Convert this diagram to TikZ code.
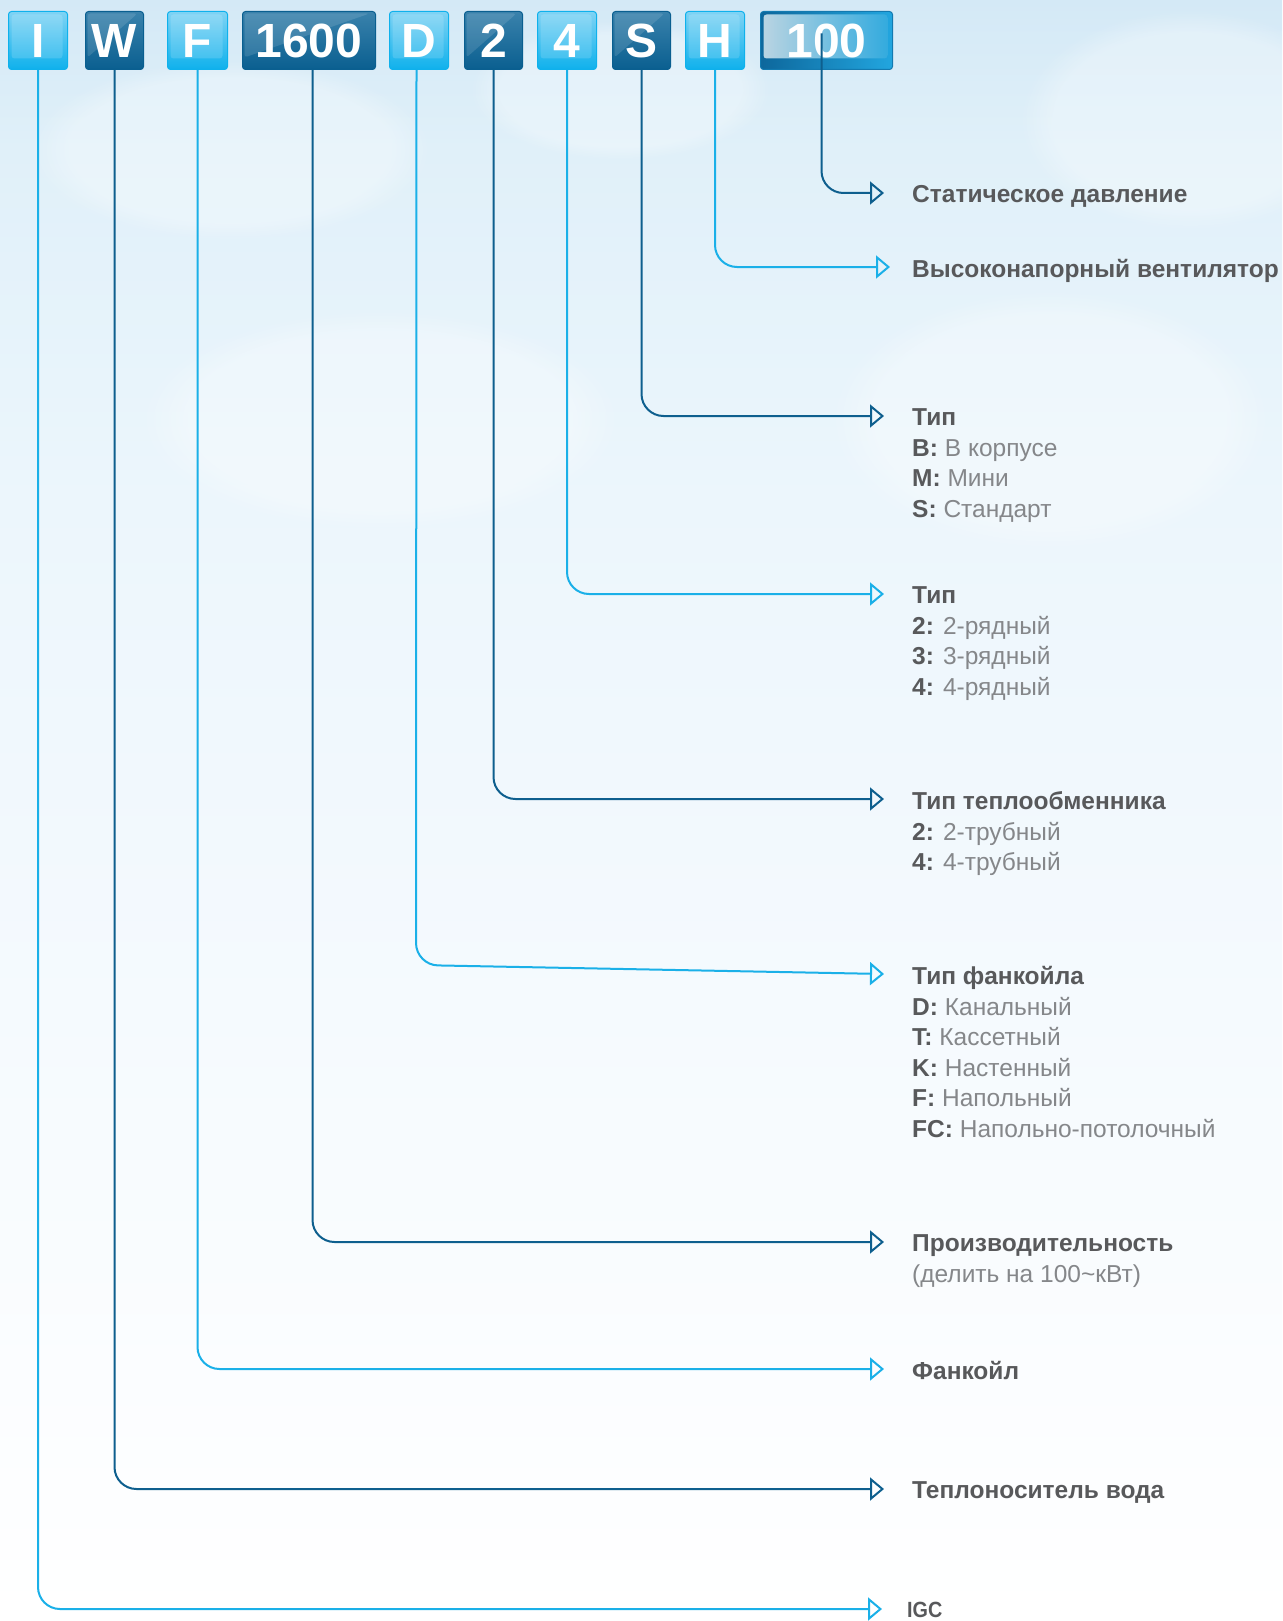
\documentclass[tikz,border=0pt]{standalone}
\usepackage{fontspec}
\setmainfont{Liberation Sans}
\usetikzlibrary{arrows.meta,fadings}
\definecolor{lbc}{HTML}{1AB0E8}
\definecolor{dbc}{HTML}{0E5F8E}
\definecolor{lb1}{HTML}{7FD3F4}
\definecolor{lb2}{HTML}{0FB1EC}
\definecolor{db1}{HTML}{3A82AC}
\definecolor{db2}{HTML}{0A5F90}
\definecolor{cb1}{HTML}{0D679C}
\definecolor{cb2}{HTML}{22A6DF}
\definecolor{ci1}{HTML}{BCD5E2}
\definecolor{ci2}{HTML}{2EA9DE}
\definecolor{tdark}{HTML}{58595B}
\definecolor{tgray}{HTML}{85878A}
\definecolor{sk0}{HTML}{FFFFFF}
\definecolor{sk1}{HTML}{F5FAFE}
\definecolor{sk2}{HTML}{ECF6FC}
\definecolor{sk3}{HTML}{E0F0F9}
\definecolor{sk4}{HTML}{D4E9F6}
\pgfdeclareverticalshading{sky}{100bp}{color(0bp)=(sk0); color(25bp)=(sk0); color(44bp)=(sk1); color(59.6bp)=(sk2); color(70.4bp)=(sk3); color(75bp)=(sk4); color(100bp)=(sk4)}
\newcommand\boxfont{\bfseries\fontsize{48}{48}\selectfont}
\newcommand\kk[1]{\textcolor{tdark}{\textbf{#1}}}
\tikzset{
  codebox/.style={rounded corners=3pt, inner sep=0pt, minimum height=58pt, text=white, font=\boxfont, anchor=north west},
  lightbox/.style={codebox, top color=lb1, bottom color=lb2, draw=lb2, line width=1pt,
    path picture={\fill[white,opacity=0.15,rounded corners=3pt] ([shift={(3pt,-3pt)}]path picture bounding box.north west) rectangle ([shift={(-5pt,11pt)}]path picture bounding box.south east);}},
  darkbox/.style={codebox, top color=db1, bottom color=db2, draw=db2, line width=1pt,
    path picture={\fill[white,opacity=0.12] ([shift={(2pt,-2pt)}]path picture bounding box.north west) -- ([shift={(-6pt,-2pt)}]path picture bounding box.north east) -- ([shift={(2pt,12pt)}]path picture bounding box.south west) -- cycle;}},
  mixbox/.style={codebox, left color=cb1, right color=cb2, draw=cb1!70!cb2, line width=1pt,
    path picture={\shade[left color=ci1, right color=ci2, rounded corners=3pt] ([shift={(3pt,-3pt)}]path picture bounding box.north west) rectangle ([shift={(-5pt,11pt)}]path picture bounding box.south east);}},
  lab/.style={anchor=north west, inner sep=0pt, align=left, text=tgray, font=\fontsize{24.5}{30.5}\selectfont},
  conn/.style={line width=2pt, rounded corners=22pt, -{Triangle[open,length=14pt,width=23pt]}},
  cloud/.style={white, opacity=0.3, path fading=circle with fuzzy edge 20 percent},
}
\begin{document}
\begin{tikzpicture}[x=1pt,y=-1pt]
\shade[shading=sky] (0,0) rectangle (1282,1621);
\useasboundingbox (0,0) rectangle (1282,1621);
% soft clouds
\fill[cloud] (1190,120) ellipse [x radius=170, y radius=110];
\fill[cloud] (230,150) ellipse [x radius=200, y radius=90];
\fill[cloud] (620,90) ellipse [x radius=150, y radius=70];
\fill[cloud] (1050,420) ellipse [x radius=220, y radius=130];
\fill[cloud] (380,420) ellipse [x radius=240, y radius=110];
% code boxes
\node[lightbox, minimum width=59pt] (I) at (8,11) {I};
\node[darkbox, minimum width=58pt] (W) at (85,11) {W};
\node[lightbox, minimum width=60pt] (F) at (167,11) {F};
\node[darkbox, minimum width=133pt] (P) at (242,11) {1600};
\node[lightbox, minimum width=59pt] (D) at (389,11) {D};
\node[darkbox, minimum width=58pt] (T) at (464,11) {2};
\node[lightbox, minimum width=59pt] (R) at (537,11) {4};
\node[darkbox, minimum width=58pt] (S) at (612,11) {S};
\node[lightbox, minimum width=59pt] (H) at (685,11) {H};
\node[mixbox, minimum width=132pt] (C) at (760,11) {100};
% arrow tips
\coordinate (tC) at (884,193);
\coordinate (tH) at (890,267);
\coordinate (tS) at (884,416);
\coordinate (tR) at (884,594);
\coordinate (tT) at (884,799);
\coordinate (bD) at (416,965);
\coordinate (tD) at (884,974);
\coordinate (tP) at (884,1242);
\coordinate (tF) at (884,1369);
\coordinate (tW) at (884,1489);
\coordinate (tI) at (882,1609);
% connectors
\draw[conn, dbc] ([xshift=-5pt,yshift=7pt]C.center) |- (tC);
\draw[conn, lbc] (H.south) |- (tH);
\draw[conn, dbc] (S.south) |- (tS);
\draw[conn, lbc] (R.south) |- (tR);
\draw[conn, dbc] (T.south) |- (tT);
\draw[conn, lbc] ([xshift=-2.5pt]D.south) -- (bD) -- (tD);
\draw[conn, dbc] ([xshift=3.5pt]P.south) |- (tP);
\draw[conn, lbc] (F.south) |- (tF);
\draw[conn, dbc] (W.south) |- (tW);
\draw[conn, lbc] (I.south) |- (tI);
% labels
\node[lab] (LC) at (912,185.5) {\kk{Статическое давление}};
\node[lab] (LH) at (912,259.5) {\kk{Высоконапорный вентилятор}};
\node[lab] (LS) at (912,408.5) {\kk{Тип}\\\kk{B:} В корпусе\\\kk{M:} Мини\\\kk{S:} Стандарт};
\node[lab] (LR) at (912,586.5) {\kk{Тип}\\\kk{2:} 2-рядный\\\kk{3:} 3-рядный\\\kk{4:} 4-рядный};
\node[lab] (LT) at (912,791.5) {\kk{Тип теплообменника}\\\kk{2:} 2-трубный\\\kk{4:} 4-трубный};
\node[lab] (LD) at (912,966.5) {\kk{Тип фанкойла}\\\kk{D:} Канальный\\\kk{T:} Кассетный\\\kk{K:} Настенный\\\kk{F:} Напольный\\\kk{FC:} Напольно-потолочный};
\node[lab] (LP) at (912,1234.5) {\kk{Производительность}\\(делить на 100\textasciitilde кВт)};
\node[lab] (LF) at (912,1361.5) {\kk{Фанкойл}};
\node[lab] (LW) at (912,1481.5) {\kk{Теплоноситель вода}};
\node[lab, font=\fontsize{22}{24}\selectfont, xscale=0.9] (LI) at (907,1602) {\kk{IGC}};
\end{tikzpicture}
\end{document}
